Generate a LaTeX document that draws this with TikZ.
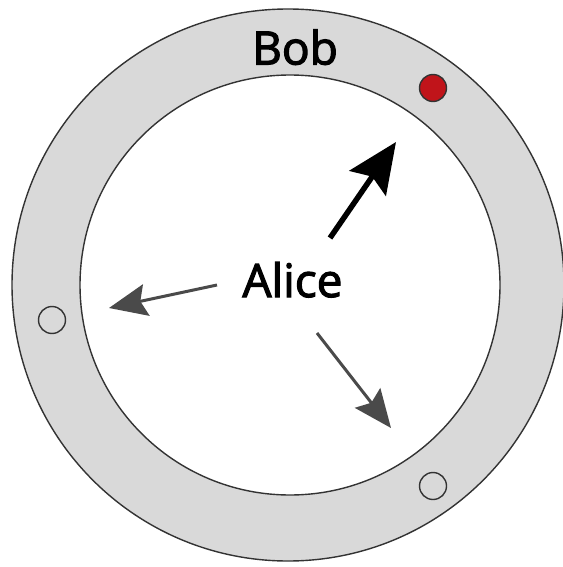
\documentclass[tikz,border=0pt]{standalone}
\usepackage{fontspec}
\setmainfont{Open Sans}
\newfontfamily\lblfont[FakeBold=2.5]{Open Sans}
\usetikzlibrary{arrows.meta}
\definecolor{ringgray}{HTML}{D9D9D9}
\definecolor{edgegray}{HTML}{333333}
\definecolor{arrowgray}{HTML}{4A4A4A}
\definecolor{dotred}{HTML}{C0141A}
\begin{document}
\begin{tikzpicture}[x=1pt,y=-1pt,
  ring/.style={draw=edgegray,line width=1.4pt},
  label/.style={inner sep=0pt,anchor=base,font=\lblfont\fontsize{46}{50}\selectfont},
  dot/.style={circle,draw=edgegray,line width=1.4pt,minimum size=27pt,inner sep=0pt},
  bigarrow/.style={line width=5.5pt,-{Stealth[length=50pt,width=44pt,inset=8pt]}},
  smallarrow/.style={draw=arrowgray,line width=3pt,-{Stealth[length=38pt,width=32pt,inset=6pt,fill=arrowgray]}}]
\useasboundingbox (0,0) rectangle (562,567);
\fill[white] (0,0) rectangle (562,567);
\draw[ring,fill=ringgray] (288,285) circle[radius=276];
\draw[ring,fill=white] (290,285) circle[radius=210];
\node[label] (bob) at (295,64.5) {Bob};
\node[label] (alice) at (292.5,297) {Alice};
\node[dot,fill=dotred] (red) at (433,88) {};
\node[dot,fill=ringgray] (left) at (52,320) {};
\node[dot,fill=ringgray] (bottom) at (433,486) {};
\coordinate (a1s) at (330,238);
\coordinate (a1e) at (396,142);
\coordinate (a2s) at (217,285);
\coordinate (a2e) at (109,308);
\coordinate (a3s) at (317,333);
\coordinate (a3e) at (391,428);
\draw[bigarrow] (a1s) -- (a1e);
\draw[smallarrow] (a2s) -- (a2e);
\draw[smallarrow] (a3s) -- (a3e);
\end{tikzpicture}
\end{document}
